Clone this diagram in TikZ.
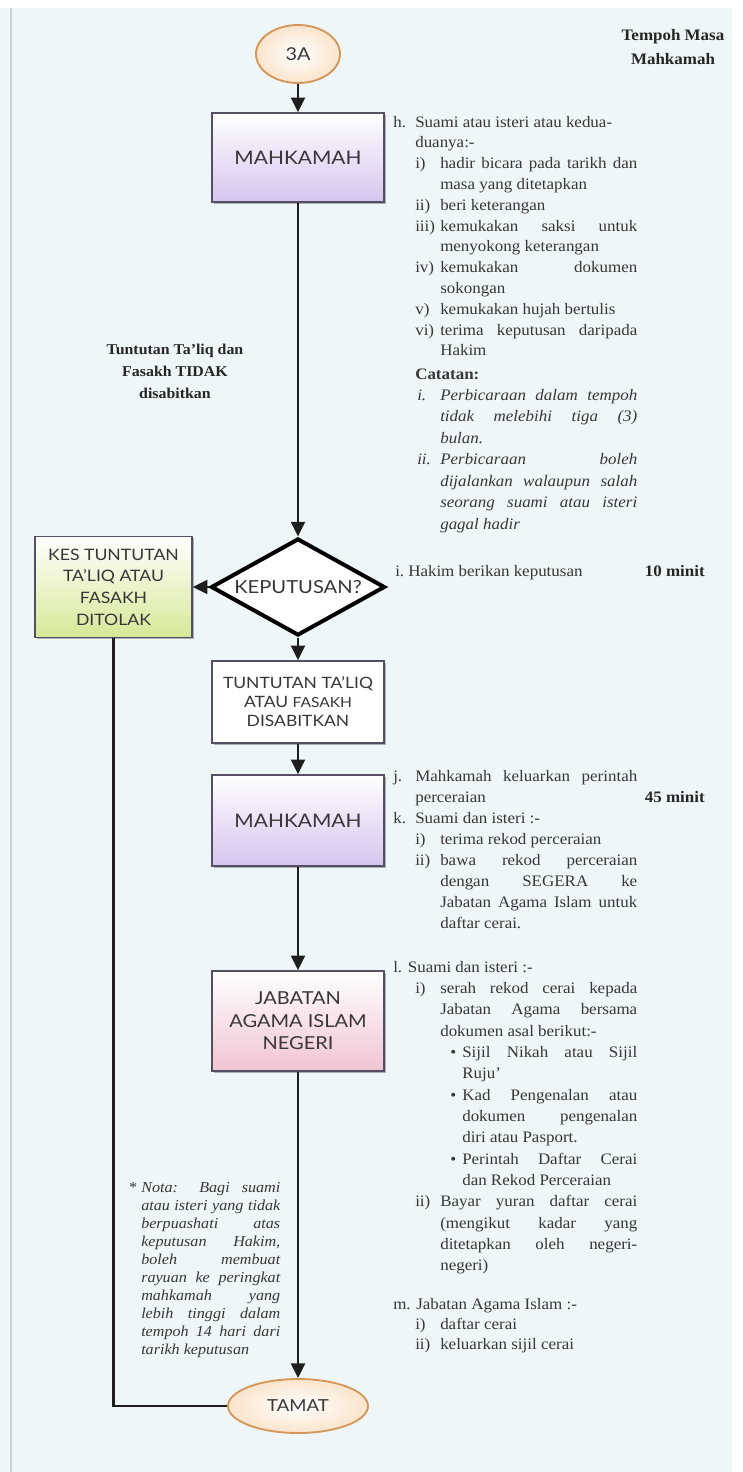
\documentclass[tikz,border=0pt]{standalone}
\usepackage{fontspec}
\setmainfont{Liberation Serif}[FakeStretch=1.06]
\newfontfamily\boxfont{Lato}[FakeStretch=1.12]
\usetikzlibrary{arrows.meta,shapes.geometric,shadows}
\definecolor{bgc}{RGB}{238,246,248}
\definecolor{edgec}{RGB}{85,78,100}
\definecolor{linec}{RGB}{30,30,30}
\definecolor{purpc}{RGB}{214,196,238}
\definecolor{pinkc}{RGB}{240,196,210}
\definecolor{greenc}{RGB}{214,232,150}
\definecolor{orngc}{RGB}{214,150,90}
\definecolor{orngl}{RGB}{250,228,204}
\definecolor{txtc}{RGB}{55,55,55}
\newcommand\px[1]{\dimexpr #1pt*3/4\relax}
\newcommand\JL[4]{\par\noindent\hspace*{\px{#1}}\makebox[\dimexpr\px{#2}-\px{#1}\relax][l]{#3}\makebox[\dimexpr\linewidth-\px{#2}\relax][s]{#4}}
\newcommand\RL[4]{\par\noindent\hspace*{\px{#1}}\makebox[\dimexpr\px{#2}-\px{#1}\relax][l]{#3}#4}
\newcommand\blk[3]{\parbox[t]{#1}{\fontsize{12pt}{#2}\selectfont\lineskiplimit=-100pt\relax\parindent=0pt\relax\parskip=0pt\relax #3}}
\tikzset{
  conn/.style={draw=linec, line width=1.6pt, -{Triangle[length=11pt,width=10.5pt]}},
  plainline/.style={draw=linec, line width=1.6pt},
  pbox/.style={rectangle, draw=edgec, line width=1.1pt, minimum width=129pt, inner sep=0pt,
    align=center, text=txtc, drop shadow={shadow xshift=1.3pt, shadow yshift=-1.3pt, fill=black!50, opacity=0.6}},
  purp/.style={top color=white, bottom color=purpc},
  pinkf/.style={top color=white, bottom color=pinkc},
  greenf/.style={top color=white, bottom color=greenc},
  ell/.style={ellipse, draw=orngc, line width=1.4pt, inner color=white, outer color=orngl, inner sep=0pt, text=txtc},
  txt/.style={anchor=base west, inner sep=0pt, text=txtc},
  boldlab/.style={align=center, text=black!85, inner sep=0pt}
}
\begin{document}
\begin{tikzpicture}[x=0.75pt,y=-0.75pt]
\useasboundingbox (0,0) rectangle (743,1472);
\fill[white] (0,0) rectangle (743,1472);
\fill[bgc] (0,8) rectangle (732,1472);
\draw[black!18, line width=0.8pt] (11,8) -- (11,1472);

% flow nodes
\node[ell, minimum width=63pt, minimum height=43.5pt, font={\boxfont\fontsize{13.3pt}{15pt}\selectfont}] (a3) at (298,54) {3A};
\node[pbox, purp, minimum height=66.75pt, font={\boxfont\fontsize{14pt}{16pt}\selectfont}] (m1) at (298,157.5) {MAHKAMAH};
\node[diamond, draw=black, line width=3pt, fill=white, minimum width=130.5pt, minimum height=72.75pt, inner sep=0pt, text=txtc, font={\boxfont\fontsize{13.5pt}{15pt}\selectfont}] (dec) at (298,587) {\makebox[0pt]{KEPUTUSAN?}};
\node[pbox, greenf, minimum width=117.75pt, minimum height=75.75pt, font={\boxfont\fontsize{11.8pt}{16.3pt}\selectfont}] (kes) at (113.5,587) {KES TUNTUTAN\\TA’LIQ ATAU\\FASAKH\\DITOLAK};
\node[pbox, fill=white, minimum height=61.5pt, font={\boxfont\fontsize{11.7pt}{14.25pt}\selectfont}] (tt) at (298,702) {TUNTUTAN TA’LIQ\\ATAU {\fontsize{10.4pt}{14.25pt}\selectfont FASAKH}\\DISABITKAN};
\node[pbox, purp, minimum height=68.25pt, font={\boxfont\fontsize{14pt}{16pt}\selectfont}] (m2) at (298,820.5) {MAHKAMAH};
\node[pbox, pinkf, minimum height=75pt, font={\boxfont\fontsize{13.4pt}{16.9pt}\selectfont}] (jb) at (298,1021) {JABATAN\\AGAMA ISLAM\\NEGERI};
\node[ell, minimum width=105pt, minimum height=40.5pt, font={\boxfont\fontsize{12.4pt}{14pt}\selectfont}] (tamat) at (298,1406) {TAMAT};

% connectors
\draw[conn] (a3) -- (m1);
\draw[conn] (m1) -- (dec);
\draw[conn] (dec) -- (kes);
\draw[conn] (dec) -- (tt);
\draw[conn] (tt) -- (m2);
\draw[conn] (m2) -- (jb);
\draw[conn] (jb) -- (tamat);
\draw[plainline] (kes.south) |- (tamat.west);

% labels
\node[boldlab, font={\bfseries\fontsize{12pt}{18pt}\selectfont}] (tempoh) at (673,47.5) {Tempoh Masa\\Mahkamah};
\node[boldlab, font={\bfseries\fontsize{11.25pt}{16.5pt}\selectfont}] (tlab) at (175,371) {Tuntutan Ta’liq dan\\Fasakh TIDAK\\disabitkan};
\node[txt, text=black!85, font={\bfseries\fontsize{12pt}{14pt}\selectfont}, anchor=base east] (t10) at (705,576) {10 minit};
\node[txt, text=black!85, font={\bfseries\fontsize{12pt}{14pt}\selectfont}, anchor=base east] (t45) at (705,802) {45 minit};

% right column text
\node[txt] (hblk) at (393,127) {\blk{183pt}{15.6pt}{%
\RL{0}{22}{h.}{Suami atau isteri atau kedua-}
\RL{22}{22}{}{duanya:-}
\JL{22}{47}{i)}{hadir bicara pada tarikh dan}
\RL{22}{47}{}{masa yang ditetapkan}
\RL{22}{47}{ii)}{beri keterangan}
\JL{22}{47}{iii)}{kemukakan saksi untuk}
\RL{22}{47}{}{menyokong keterangan}
\JL{22}{47}{iv)}{kemukakan dokumen}
\RL{22}{47}{}{sokongan}
\RL{22}{47}{v)}{kemukakan hujah bertulis}
\JL{22}{47}{vi)}{terima keputusan daripada}
\RL{22}{47}{}{Hakim}}};
\node[txt] (cblk) at (393,379) {\blk{183pt}{16.1pt}{%
\RL{22}{22}{}{\textbf{Catatan:}}
\JL{24}{47}{\textit{i.}}{\textit{Perbicaraan dalam tempoh}}
\JL{24}{47}{}{\textit{tidak melebihi tiga (3)}}
\RL{24}{47}{}{\textit{bulan.}}
\JL{24}{47}{\textit{ii.}}{\textit{Perbicaraan boleh}}
\JL{24}{47}{}{\textit{dijalankan walaupun salah}}
\JL{24}{47}{}{\textit{seorang suami atau isteri}}
\RL{24}{47}{}{\textit{gagal hadir}}}};
\node[txt] (iblk) at (393,576) {\blk{183pt}{15pt}{%
\RL{2}{15}{i.}{Hakim berikan keputusan}}};
\node[txt] (jblk) at (393,781) {\blk{183pt}{15.75pt}{%
\JL{0}{22}{j.}{Mahkamah keluarkan perintah}
\RL{0}{22}{}{perceraian}
\RL{0}{22}{k.}{Suami dan isteri :-}
\RL{22}{47}{i)}{terima rekod perceraian}
\JL{22}{47}{ii)}{bawa rekod perceraian}
\JL{22}{47}{}{dengan SEGERA ke}
\JL{22}{47}{}{Jabatan Agama Islam untuk}
\RL{22}{47}{}{daftar cerai.}}};
\node[txt] (lblk) at (393,972) {\blk{183pt}{16pt}{%
\RL{0}{0}{}{l. Suami dan isteri :-}
\JL{22}{47}{i)}{serah rekod cerai kepada}
\JL{22}{47}{}{Jabatan Agama bersama}
\RL{22}{47}{}{dokumen asal berikut:-}
\JL{57}{69}{\textbullet}{Sijil Nikah atau Sijil}
\RL{57}{69}{}{Ruju’}
\JL{57}{69}{\textbullet}{Kad Pengenalan atau}
\JL{57}{69}{}{dokumen pengenalan}
\RL{57}{69}{}{diri atau Pasport.}
\JL{57}{69}{\textbullet}{Perintah Daftar Cerai}
\RL{57}{69}{}{dan Rekod Perceraian}
\JL{22}{47}{ii)}{Bayar yuran daftar cerai}
\JL{22}{47}{}{(mengikut kadar yang}
\JL{22}{47}{}{ditetapkan oleh negeri-}
\RL{22}{47}{}{negeri)}}};
\node[txt] (mblk) at (393,1309) {\blk{183pt}{15pt}{%
\RL{0}{0}{}{m. Jabatan Agama Islam :-}
\RL{22}{47}{i)}{daftar cerai}
\RL{22}{47}{ii)}{keluarkan sijil cerai}}};

% nota
\node[txt] (nota) at (128,1192) {\parbox[t]{114pt}{\fontsize{11.4pt}{13.5pt}\selectfont\itshape\lineskiplimit=-100pt\relax\parindent=0pt\relax
\JL{0}{13}{*}{Nota: Bagi suami}
\JL{0}{13}{}{atau isteri yang tidak}
\JL{0}{13}{}{berpuashati atas}
\JL{0}{13}{}{keputusan Hakim,}
\JL{0}{13}{}{boleh membuat}
\JL{0}{13}{}{rayuan ke peringkat}
\JL{0}{13}{}{mahkamah yang}
\JL{0}{13}{}{lebih tinggi dalam}
\JL{0}{13}{}{tempoh 14 hari dari}
\RL{0}{13}{}{tarikh keputusan}}};
\end{tikzpicture}
\end{document}
